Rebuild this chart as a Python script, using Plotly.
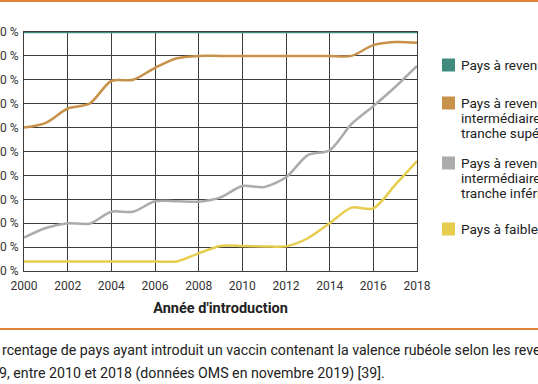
import plotly.graph_objects as go

years = list(range(2000, 2019))

high_income = [100] * 19
upper_middle = [60, 62, 68, 70, 79.5, 80, 85, 89, 90, 90, 90, 90, 90, 90, 90, 90, 94.5, 95.8, 95.5]
lower_middle = [14, 18, 20, 19.8, 24.8, 24.8, 29.2, 29.2, 29, 30.8, 35.6, 35.1, 39.2, 48.5, 50.5, 61.5, 69, 77, 85.8]
low_income = [4, 4, 4, 4, 4, 4, 4, 4, 7.4, 10.5, 10.5, 10.3, 10.3, 13.7, 20, 26.5, 26.2, 36, 46]

series_names = [
    ["Pays à revenu élevé"],
    ["Pays à revenu", "intermédiaire,", "tranche supérieure"],
    ["Pays à revenu", "intermédiaire,", "tranche inférieure"],
    ["Pays à faible revenu"],
]
series_values = [high_income, upper_middle, lower_middle, low_income]
colors = ["#3f8c7e", "#c8914a", "#ababab", "#e6cd4e"]

x_title = "Année d'introduction"
caption_lines = [
    "rcentage de pays ayant introduit un vaccin contenant la valence rubéole selon les revenus",
    "9, entre 2010 et 2018 (données OMS en novembre 2019) [39].",
]

FONT = "Roboto"
W, H = 538, 384
L, R, T, B = 24, 121, 32, 113
PW, PH = W - L - R, H - T - B


def px_x(px):
    return (px - L) / PW


def px_y(py):
    return (H - B - py) / PH


fig = go.Figure()
# draw in reverse so the high-income line is on top
for name, vals, col in reversed(list(zip(series_names, series_values, colors))):
    fig.add_trace(go.Scatter(
        x=years, y=vals, mode="lines", name=" ".join(name),
        line=dict(color=col, width=2.5, shape="spline", smoothing=0.8),
        cliponaxis=False, showlegend=False, hoverinfo="skip",
    ))

grid = "#3c3c3c"
fig.update_xaxes(
    range=[2000, 2018], dtick=2, tick0=2000, showgrid=True, gridcolor=grid, gridwidth=1,
    showline=True, linecolor=grid, linewidth=1, mirror=True, zeroline=False,
    ticks="outside", ticklen=4, tickcolor="rgba(0,0,0,0)",
    tickfont=dict(family=FONT, size=12, color="#333"),
    title=dict(text="<b>" + x_title + "</b>", font=dict(family=FONT, size=14.5, color="#222"), standoff=10),
    automargin=False, fixedrange=True,
)
fig.update_yaxes(
    range=[0, 100], dtick=10, tick0=0, ticksuffix=" %", showgrid=True, gridcolor=grid, gridwidth=1,
    showline=True, linecolor=grid, linewidth=1, mirror=True, zeroline=False,
    ticks="outside", ticklen=2, tickcolor="rgba(0,0,0,0)",
    tickfont=dict(family=FONT, size=12, color="#333"),
    automargin=False, fixedrange=True,
)

shapes = []
annotations = []
# legend
legend_centers = [65, 103, 163, 229]
LINE_H = 15
for lines, col, cy in zip(series_names, colors, legend_centers):
    shapes.append(dict(type="rect", xref="paper", yref="paper",
                       x0=px_x(442), x1=px_x(455), y0=px_y(cy + 6.5), y1=px_y(cy - 6.5),
                       fillcolor=col, line=dict(width=0)))
    for i, ln in enumerate(lines):
        annotations.append(dict(xref="paper", yref="paper", x=px_x(460), y=px_y(cy + i * LINE_H),
                                xanchor="left", yanchor="middle", align="left", showarrow=False,
                                borderpad=0,
                                text=ln, font=dict(family=FONT, size=13.6, color="#222")))

# orange rules
for yy in [1, 329]:
    shapes.append(dict(type="line", xref="paper", yref="paper",
                       x0=px_x(0), x1=px_x(W), y0=px_y(yy), y1=px_y(yy),
                       line=dict(color="#e0833a", width=2)))

# caption
annotations.append(dict(xref="paper", yref="paper", x=px_x(0), y=px_y(350), xanchor="left", yanchor="middle",
                        showarrow=False, text=caption_lines[0], font=dict(family=FONT, size=14.2, color="#222")))
annotations.append(dict(xref="paper", yref="paper", x=px_x(-3), y=px_y(373), xanchor="left", yanchor="middle",
                        showarrow=False, text=caption_lines[1], font=dict(family=FONT, size=14.2, color="#222")))

fig.update_layout(
    width=W, height=H, margin=dict(l=L, r=R, t=T, b=B, pad=0),
    paper_bgcolor="white", plot_bgcolor="white",
    shapes=shapes, annotations=annotations, showlegend=False,
    font=dict(family=FONT),
)

fig.write_html("out.html", config={"displayModeBar": False},
               post_script="document.body.style.margin='0px';document.body.style.overflow='hidden';")
